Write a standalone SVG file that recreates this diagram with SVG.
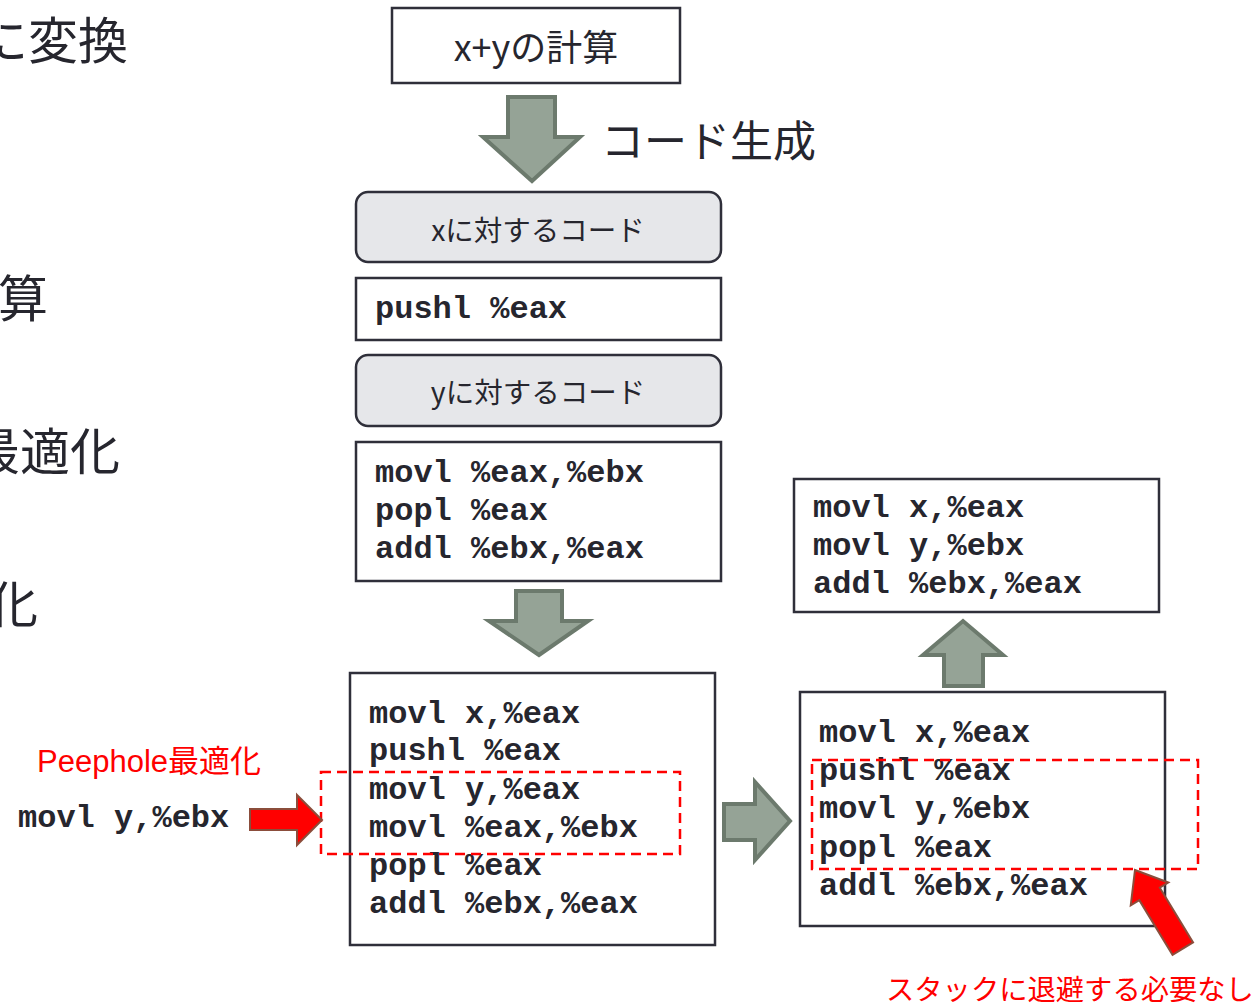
<svg xmlns="http://www.w3.org/2000/svg" width="1258" height="1005" viewBox="0 0 1258 1005">
<style>
.box{fill:#ffffff;stroke:#2f2f3a;stroke-width:2.5}
.rbox{fill:#e6e7ea;stroke:#2f2f3a;stroke-width:2.5}
.jp{font-family:"Noto Sans CJK JP","Liberation Sans",sans-serif;fill:#26262e}
.code{font-family:"Liberation Mono","Courier New",monospace;font-weight:bold;font-size:32px;fill:#26262e}
.red{font-family:"Liberation Sans","Noto Sans CJK JP",sans-serif;fill:#ff0000}
.garrow{fill:#95a396;stroke:#6c7a6d;stroke-width:4;stroke-linejoin:miter}
.rarrow{fill:#ff0000;stroke:#8b4d3b;stroke-width:2}
.dash{fill:none;stroke:#ff0000;stroke-width:2.5;stroke-dasharray:10 6}
</style>
<rect width="1258" height="1005" fill="#ffffff"/>
<g id="left-text">
<text class="jp" x="128" y="59" font-size="50" text-anchor="end">に変換</text>
<text class="jp" x="48" y="317" font-size="50" text-anchor="end">算</text>
<text class="jp" x="120" y="470" font-size="50" text-anchor="end">最適化</text>
<text class="jp" x="38" y="623" font-size="50" text-anchor="end">化</text>
</g>
<g id="n-xy">
<rect class="box" x="392" y="8" width="288" height="75"/>
<text class="jp" x="536" y="61" font-size="36" text-anchor="middle">x+yの計算</text>
</g>
<g id="label-codegen">
<text class="jp" x="601" y="157" font-size="43">コード生成</text>
</g>
<g id="n-xcode">
<rect class="rbox" x="356" y="192" width="365" height="70" rx="12"/>
<text class="jp" x="538" y="241" font-size="28.5" text-anchor="middle">xに対するコード</text>
</g>
<g id="n-push">
<rect class="box" x="356" y="278" width="365" height="62"/>
<text class="code" x="375" y="318">pushl %eax</text>
</g>
<g id="n-ycode">
<rect class="rbox" x="356" y="355" width="365" height="71" rx="12"/>
<text class="jp" x="538" y="403" font-size="28.5" text-anchor="middle">yに対するコード</text>
</g>
<g id="n-tail">
<rect class="box" x="356" y="442" width="365" height="139"/>
<text class="code" x="375" y="482">movl %eax,%ebx</text>
<text class="code" x="375" y="520">popl %eax</text>
<text class="code" x="375" y="558">addl %ebx,%eax</text>
</g>
<g id="n-full">
<rect class="box" x="350" y="673" width="365" height="272"/>
<text class="code" x="369" y="723">movl x,%eax</text>
<text class="code" x="369" y="760">pushl %eax</text>
<text class="code" x="369" y="799">movl y,%eax</text>
<text class="code" x="369" y="837">movl %eax,%ebx</text>
<text class="code" x="369" y="875">popl %eax</text>
<text class="code" x="369" y="913">addl %ebx,%eax</text>
<rect class="dash" x="321" y="772" width="359" height="82"/>
</g>
<g id="n-peephole">
<text class="red" x="37" y="772" font-size="31">Peephole最適化</text>
<text class="code" x="18" y="827">movl y,%ebx</text>
</g>
<g id="n-opt1">
<rect class="box" x="800" y="692" width="365" height="234"/>
<text class="code" x="819" y="742">movl x,%eax</text>
<text class="code" x="819" y="780">pushl %eax</text>
<text class="code" x="819" y="818">movl y,%ebx</text>
<text class="code" x="819" y="857">popl %eax</text>
<text class="code" x="819" y="895">addl %ebx,%eax</text>
<rect class="dash" x="812" y="760" width="386" height="109"/>
</g>
<g id="n-opt2">
<rect class="box" x="794" y="479" width="365" height="133"/>
<text class="code" x="813" y="517">movl x,%eax</text>
<text class="code" x="813" y="555">movl y,%ebx</text>
<text class="code" x="813" y="593">addl %ebx,%eax</text>
</g>
<g id="note">
<text class="red" x="886" y="1000" font-size="28.3">スタックに退避する必要なし</text>
</g>
<g id="connectors">
<polygon class="garrow" points="508,97 555,97 555,137 580,137 532,181 483,137 508,137"/>
<polygon class="garrow" points="516,591 562,591 562,621 588,621 539,655 489,621 516,621"/>
<polygon class="garrow" points="724,804 755,804 755,782 790,821 755,860 755,840 724,840"/>
<polygon class="garrow" points="944,686 983,686 983,655 1003,655 963,621 923,655 944,655"/>
<polygon class="rarrow" points="250,809 297,809 297,795 322,820 297,845 297,830 250,830"/>
<polygon class="rarrow" transform="translate(1135,870) rotate(58.7)" points="0,0 28,-22 28,-12 92,-12 92,12 28,12 28,22"/>
</g>
</svg>
